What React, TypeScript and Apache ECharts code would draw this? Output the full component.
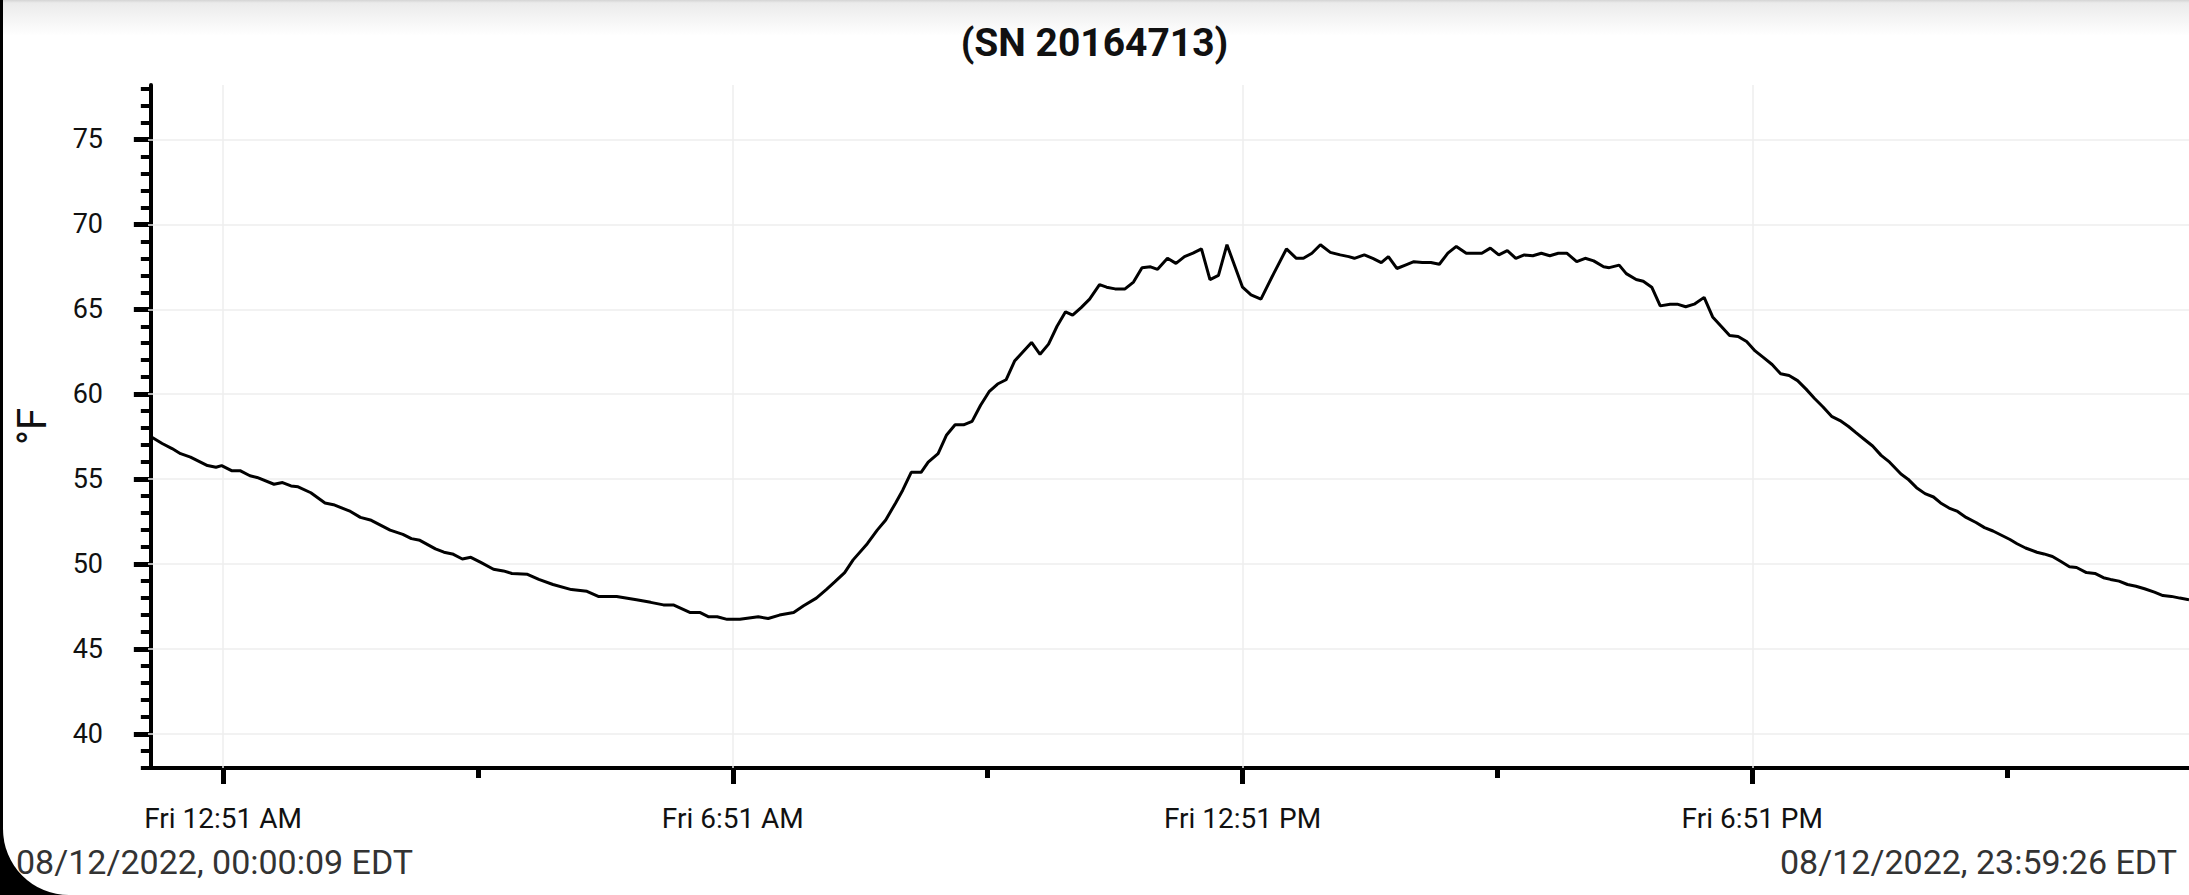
import React, { useEffect, useRef } from "react";
import * as echarts from "echarts";

const FONT = "Roboto";

const titleText = "(SN 20164713)";
const yAxisName = "°F";
const startStamp = "08/12/2022, 00:00:09 EDT";
const endStamp = "08/12/2022, 23:59:26 EDT";

// minutes since midnight, 08/12/2022
const minutes = [
  0.15, 8, 15, 21, 28, 40, 46, 50, 57, 63, 70, 75, 87, 93, 99, 104, 113, 123, 129, 141,
  148, 155, 169, 178, 184, 190, 201, 207, 213, 220, 226, 233, 242, 249, 255, 266, 274, 284, 297, 308,
  316, 329, 343, 353, 362, 369, 381, 388, 394, 400, 407, 416, 429, 436, 444, 454, 461, 470, 477, 483,
  490, 496, 506, 513, 519, 526, 531, 537, 544, 549, 556, 562, 568, 574, 580, 586, 592, 598, 604, 610,
  616, 622, 628, 634, 640, 646, 651, 657, 663, 670, 675, 681, 688, 694, 700, 706, 711, 718, 724, 730,
  736, 742, 748, 754, 760, 771, 777, 784, 793, 802, 809, 814, 820, 826, 833, 840, 846, 850, 857, 863,
  869, 874, 880, 886, 892, 898, 904, 910, 916, 922, 929, 935, 940, 946, 952, 958, 964, 970, 976, 982,
  988, 994, 1000, 1007, 1013, 1019, 1026, 1030, 1037, 1042, 1049, 1054, 1060, 1066, 1073, 1078, 1084, 1090, 1097, 1103,
  1109, 1115, 1121, 1127, 1133, 1139, 1145, 1151, 1157, 1163, 1169, 1175, 1181, 1187, 1193, 1199, 1204, 1210, 1216, 1222,
  1228, 1236, 1241, 1247, 1253, 1259, 1264, 1270, 1276, 1282, 1289, 1295, 1301, 1307, 1313, 1318, 1324, 1332, 1337, 1343,
  1349, 1355, 1360, 1367, 1373, 1379, 1384, 1390, 1396, 1402, 1408, 1415, 1421, 1427, 1433, 1439.43,
];

// temperature, °F
const temps = [
  57.5, 57.1, 56.8, 56.5, 56.3, 55.8, 55.7, 55.8, 55.5, 55.5, 55.2, 55.1, 54.7, 54.8, 54.6, 54.55, 54.2, 53.6, 53.5, 53.1,
  52.75, 52.6, 52.0, 51.75, 51.5, 51.4, 50.9, 50.7, 50.6, 50.3, 50.4, 50.1, 49.7, 49.6, 49.45, 49.4, 49.1, 48.8, 48.5, 48.4,
  48.1, 48.1, 47.9, 47.75, 47.6, 47.6, 47.15, 47.15, 46.9, 46.9, 46.75, 46.75, 46.9, 46.8, 47.0, 47.15, 47.55, 48.0, 48.5, 48.95,
  49.5, 50.25, 51.2, 52.0, 52.6, 53.6, 54.35, 55.4, 55.4, 56.0, 56.5, 57.6, 58.2, 58.2, 58.4, 59.35, 60.15, 60.6, 60.85, 61.95,
  62.5, 63.05, 62.35, 62.95, 64.0, 64.85, 64.65, 65.1, 65.6, 66.45, 66.3, 66.2, 66.2, 66.6, 67.45, 67.5, 67.35, 68.0, 67.7, 68.1,
  68.3, 68.55, 66.75, 67.0, 68.8, 66.3, 65.85, 65.6, 67.1, 68.55, 68.0, 68.0, 68.3, 68.8, 68.35, 68.2, 68.1, 68.0, 68.2, 68.0,
  67.75, 68.1, 67.4, 67.6, 67.8, 67.75, 67.75, 67.65, 68.3, 68.7, 68.3, 68.3, 68.3, 68.6, 68.2, 68.45, 68.0, 68.2, 68.15, 68.3,
  68.15, 68.3, 68.3, 67.8, 68.0, 67.85, 67.5, 67.45, 67.6, 67.1, 66.75, 66.65, 66.3, 65.2, 65.3, 65.3, 65.15, 65.3, 65.7, 64.55,
  64.0, 63.45, 63.4, 63.1, 62.55, 62.15, 61.75, 61.2, 61.1, 60.8, 60.3, 59.75, 59.25, 58.7, 58.45, 58.1, 57.75, 57.35, 56.95, 56.4,
  56.0, 55.3, 55.0, 54.5, 54.15, 53.95, 53.6, 53.3, 53.1, 52.75, 52.45, 52.15, 51.95, 51.7, 51.45, 51.2, 50.95, 50.7, 50.6, 50.45,
  50.15, 49.85, 49.8, 49.5, 49.45, 49.2, 49.1, 49.0, 48.8, 48.7, 48.55, 48.35, 48.15, 48.1, 48.0, 47.9,
];

const yMajorTicks = [40, 45, 50, 55, 60, 65, 70, 75];
const yMinorTicks = [
  38, 39, 40, 41, 42, 43, 44, 45, 46, 47, 48, 49, 50, 51, 52, 53, 54, 55, 56, 57, 58,
  59, 60, 61, 62, 63, 64, 65, 66, 67, 68, 69, 70, 71, 72, 73, 74, 75, 76, 77, 78,
];
const xMajorTicks = [51, 411, 771, 1131];
const xMajorLabels = ["Fri 12:51 AM", "Fri 6:51 AM", "Fri 12:51 PM", "Fri 6:51 PM"];
const xMinorTicks = [231, 591, 951, 1311];

const X_MIN = -2;
const X_MAX = 1439.43;
const Y_MIN = 38;
const Y_MAX = 78.2;

export default function App() {
  const ref = useRef<HTMLDivElement>(null);

  useEffect(() => {
    if (!ref.current) return;
    const chart = echarts.init(ref.current, undefined, { renderer: "svg" });
    const data = minutes.map((m, i) => [m, temps[i]]);
    const tickStyle = (w: number) => ({ color: "#000", width: w });

    const option: any = {
      animation: false,
      backgroundColor: "transparent",
      title: {
        text: titleText,
        left: "center",
        top: 18,
        textStyle: { fontFamily: FONT, fontWeight: "bold", fontSize: 39, color: "#111" },
      },
      grid: { left: 148, right: -3, top: 85, bottom: 127 },
      xAxis: [
        {
          type: "value",
          min: X_MIN,
          max: X_MAX,
          position: "bottom",
          axisLine: { show: true, lineStyle: { color: "#000", width: 4 } },
          axisTick: { show: true, customValues: xMajorTicks, length: 16, lineStyle: tickStyle(5) },
          axisLabel: {
            show: true,
            customValues: xMajorTicks,
            formatter: (v: number) => {
              const idx = xMajorTicks.indexOf(Math.round(v));
              return idx >= 0 ? xMajorLabels[idx] : "";
            },
            margin: 36,
            fontFamily: FONT,
            fontSize: 28,
            color: "#111",
          },
          splitLine: { show: false },
        },
        {
          type: "value",
          min: X_MIN,
          max: X_MAX,
          position: "bottom",
          axisLine: { show: false },
          axisTick: { show: true, customValues: xMinorTicks, length: 10, lineStyle: tickStyle(5) },
          axisLabel: { show: false },
          splitLine: { show: false },
        },
      ],
      yAxis: [
        {
          type: "value",
          min: Y_MIN,
          max: Y_MAX,
          position: "left",
          name: yAxisName,
          nameLocation: "middle",
          nameGap: 96,
          nameTextStyle: { fontFamily: FONT, fontSize: 40, color: "#111" },
          axisLine: { show: true, lineStyle: { color: "#000", width: 4 } },
          axisTick: { show: true, customValues: yMajorTicks, length: 17, lineStyle: tickStyle(5) },
          axisLabel: {
            show: true,
            customValues: yMajorTicks,
            margin: 45,
            fontFamily: FONT,
            fontSize: 27,
            color: "#111",
          },
          splitLine: { show: false },
        },
        {
          type: "value",
          min: Y_MIN,
          max: Y_MAX,
          position: "left",
          axisLine: { show: false },
          axisTick: { show: true, customValues: yMinorTicks, length: 10, lineStyle: tickStyle(4) },
          axisLabel: { show: false },
          splitLine: { show: false },
        },
      ],
      series: [
        {
          type: "line",
          xAxisIndex: 0,
          yAxisIndex: 0,
          data,
          showSymbol: false,
          symbol: "none",
          z: 3,
          lineStyle: { color: "#000", width: 3 },
          markLine: {
            silent: true,
            z: 1,
            symbol: ["none", "none"],
            label: { show: false },
            lineStyle: { color: "#eeeeee", width: 1.5, type: "solid" },
            data: [
              ...yMajorTicks.map((v) => ({ yAxis: v })),
              ...xMajorTicks.map((v) => ({ xAxis: v })),
            ],
          },
        },
      ],
      graphic: [
        {
          type: "text",
          left: 16,
          top: 845,
          style: { text: startStamp, fontFamily: FONT, fontSize: 34, fill: "#333" },
        },
        {
          type: "text",
          right: 12,
          top: 845,
          style: { text: endStamp, fontFamily: FONT, fontSize: 34, fill: "#333" },
        },
      ],
    };
    chart.setOption(option);
    return () => chart.dispose();
  }, []);

  return (
    <div
      style={{
        position: "fixed",
        left: 0,
        top: 0,
        width: 2189,
        height: 895,
        background: "#000",
        overflow: "hidden",
      }}
    >
      <div
        style={{
          position: "absolute",
          left: 3,
          top: 0,
          width: 2186,
          height: 895,
          background: "linear-gradient(#d4d4d4 0px, #ebebeb 3px, #ffffff 36px)",
          borderBottomLeftRadius: 66,
          overflow: "hidden",
        }}
      >
        <div ref={ref} style={{ position: "absolute", left: -3, top: 0, width: 2189, height: 895 }} />
      </div>
    </div>
  );
}
